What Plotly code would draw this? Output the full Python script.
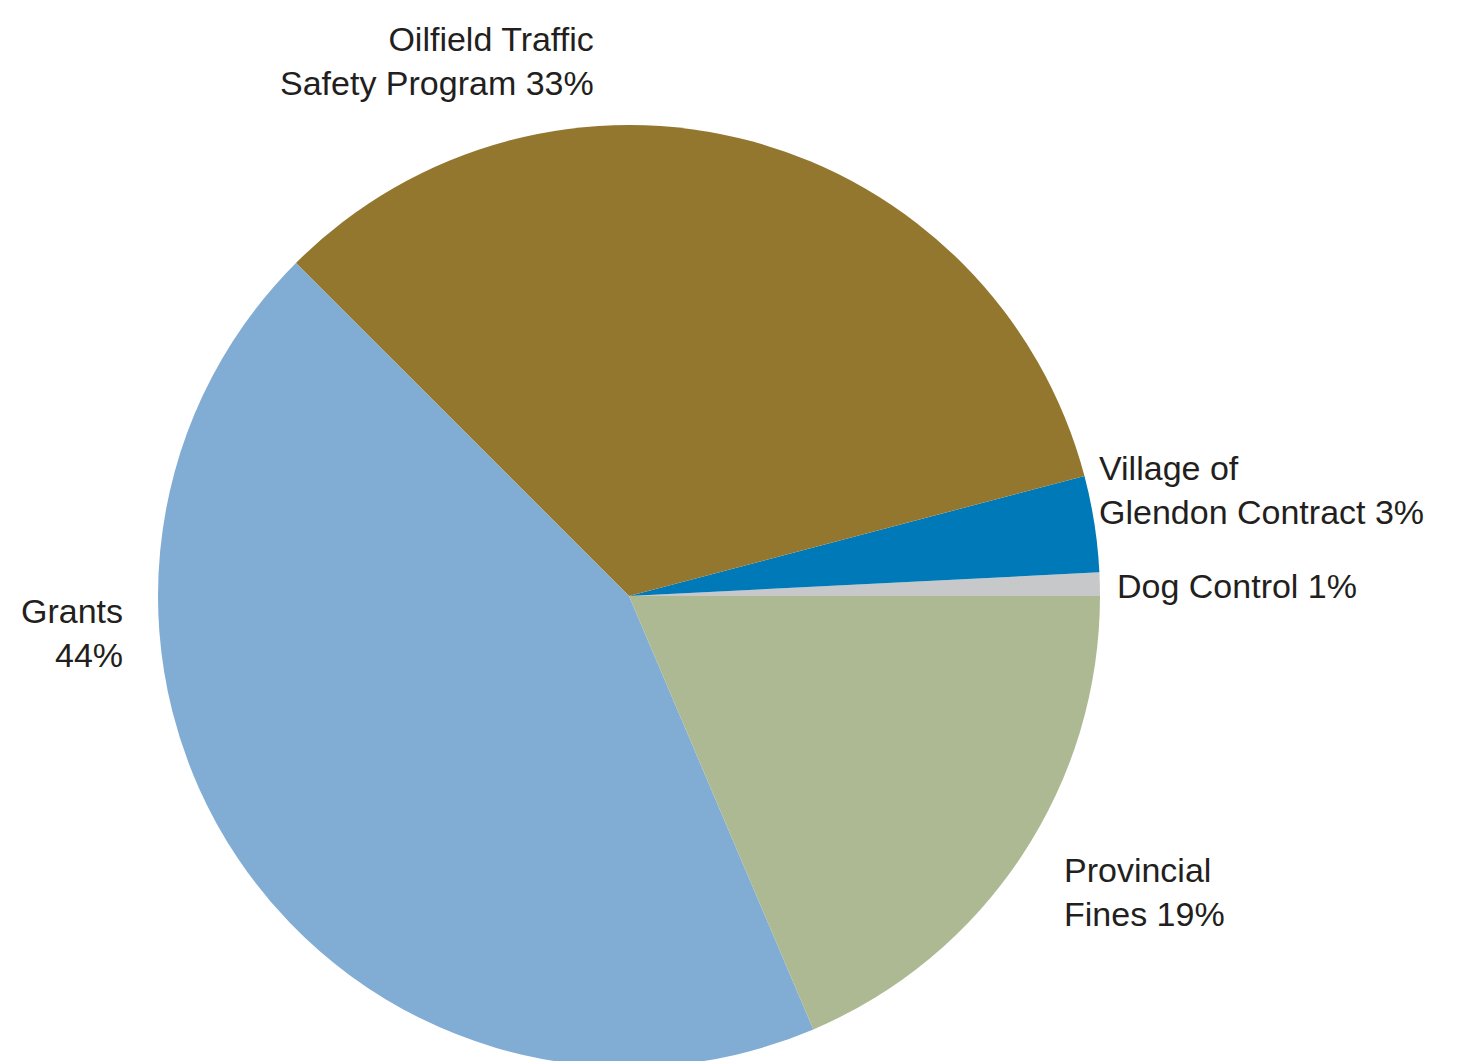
import plotly.graph_objects as go

# Data (shares; labels show rounded percentages)
labels = ["Dog Control", "Village of Glendon Contract", "Oilfield Traffic Safety Program", "Grants", "Provincial Fines"]
label_lines = [["Dog Control"], ["Village of", "Glendon Contract"], ["Oilfield Traffic", "Safety Program"], ["Grants", ""], ["Provincial", "Fines"]]
values = [0.8, 3.3, 33.4, 43.9, 18.6]
colors = ["#c7c8ca", "#0079b8", "#93772e", "#81acd4", "#adb993"]

W, H = 1460, 1061

# label placement (pixel positions: x, y-centre of text block, anchor)
label_pos = [
    (1107, 578, "left"),
    (1089, 482, "left"),
    (588, 53, "right"),
    (117, 625, "right"),
    (1054, 884, "left"),
]

total = sum(values)
fig = go.Figure()
fig.add_trace(go.Pie(
    labels=labels,
    values=values,
    marker=dict(colors=colors, line=dict(width=0)),
    sort=False,
    direction="counterclockwise",
    rotation=90 - 360 * values[0] / total,
    textinfo="none",
    hoverinfo="label+percent",
    showlegend=False,
    domain=dict(x=[150 / W, 1092 / W], y=[2 / H, 944 / H]),
))

for lines, val, (px, py, anc) in zip(label_lines, values, label_pos):
    last = (lines[-1] + " " + f"{round(val * 100 / total)}%").strip()
    text = "<br>".join(lines[:-1] + [last])
    fig.add_annotation(
        x=px / W, y=1 - py / H, xref="paper", yref="paper",
        text=text, showarrow=False, xanchor=anc, yanchor="middle", align=anc,
        font=dict(family="Liberation Sans, Arial, sans-serif", size=34, color="#231f20"),
    )

fig.update_layout(
    width=W, height=H,
    margin=dict(l=0, r=0, t=0, b=0),
    paper_bgcolor="white",
    plot_bgcolor="white",
)

fig.write_html("out.html")
